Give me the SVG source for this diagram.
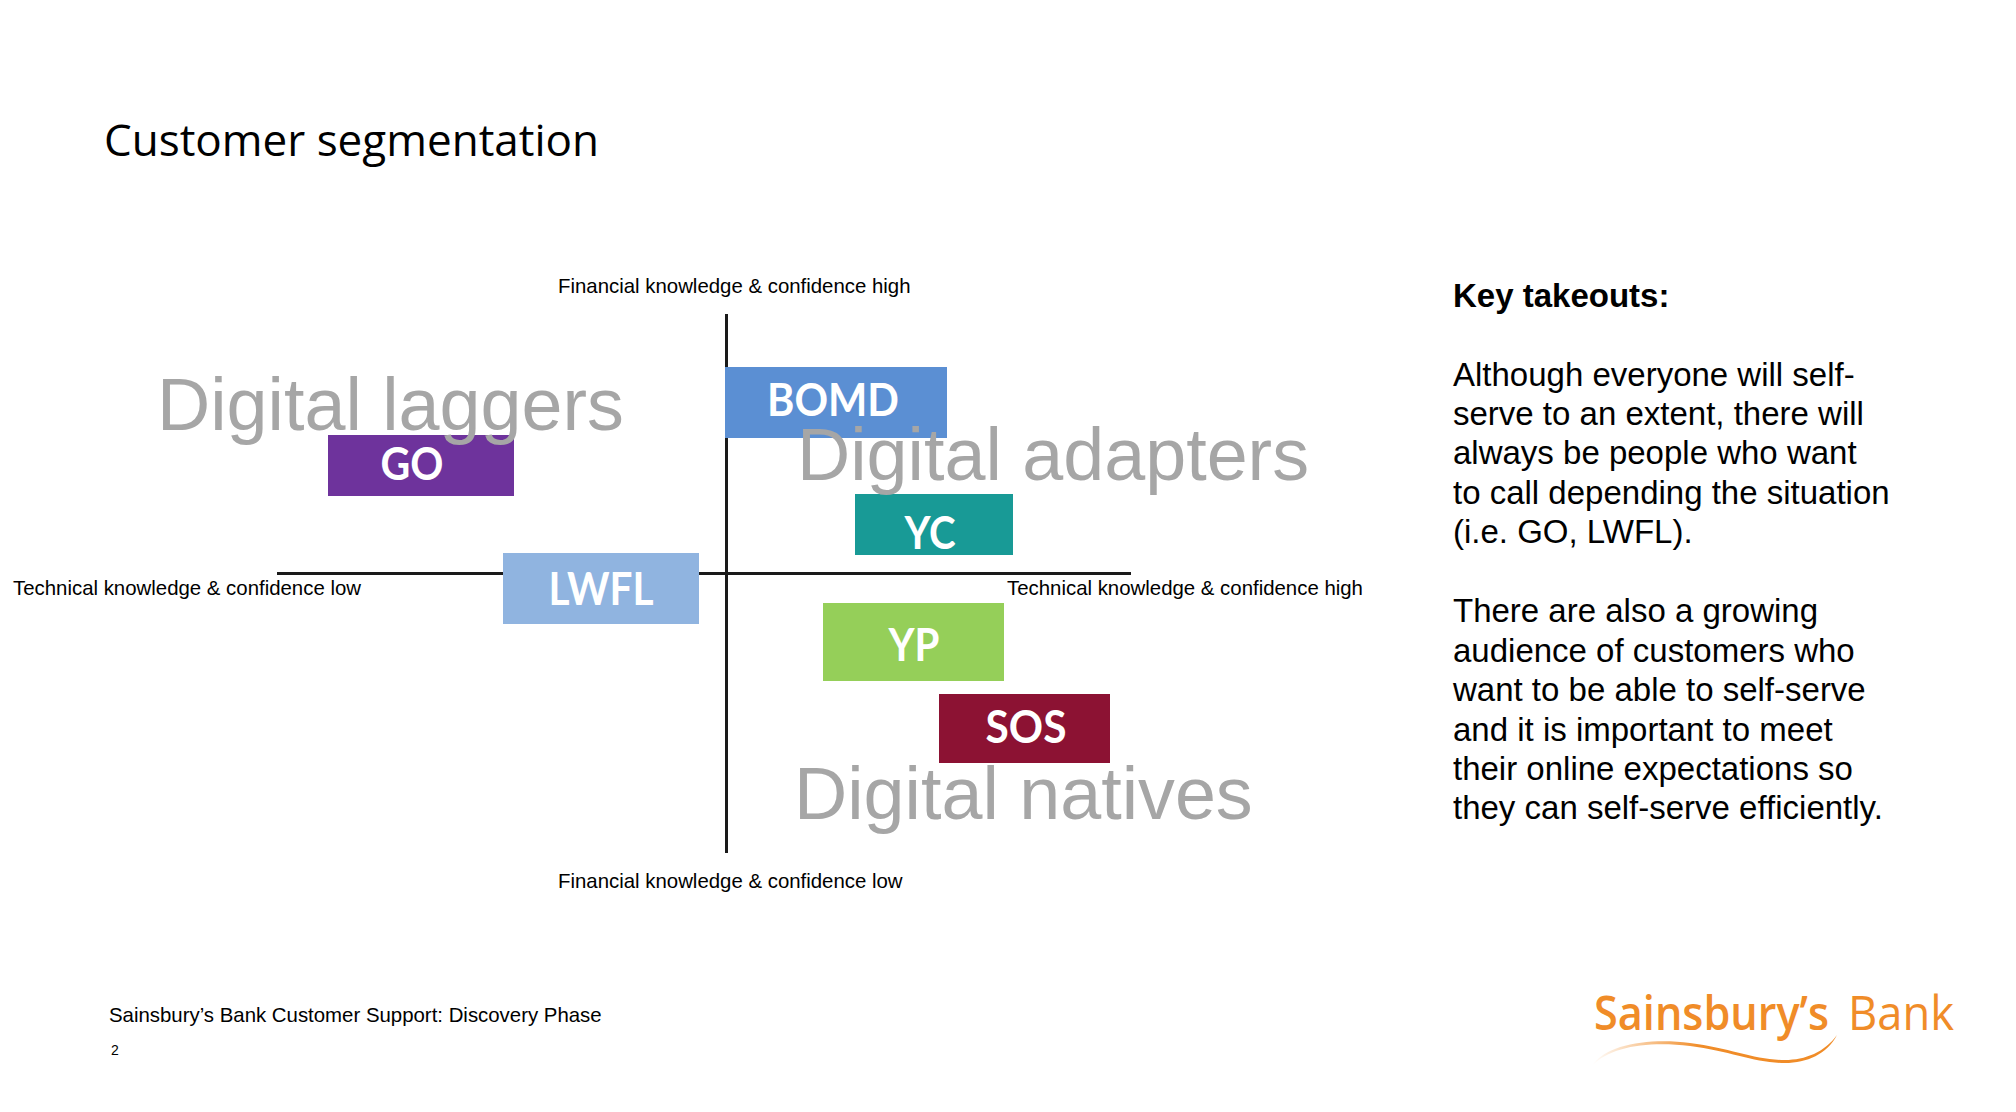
<svg xmlns="http://www.w3.org/2000/svg" width="2016" height="1112" viewBox="0 0 2016 1112">
<style>
text{font-family:"Liberation Sans",Arial,sans-serif;fill:#000}
.axis{font-size:20.4px}
.body{font-size:33px}
.seg{font-size:73.7px;fill:#a6a6a6}
.lab{font-family:Lato,"Open Sans",sans-serif;font-weight:700;font-size:46px;fill:#fff;text-anchor:middle}
.ax{stroke:#1a1a1a;stroke-width:3;fill:none}
.logo{font-family:"Open Sans",Lato,sans-serif;font-size:47px;fill:#f08c28}
</style>
<defs><linearGradient id="sw" gradientUnits="userSpaceOnUse" x1="1592" y1="0" x2="1700" y2="0"><stop offset="0" stop-color="#f08c28" stop-opacity="0"/><stop offset="1" stop-color="#f08c28"/></linearGradient></defs>
<rect width="2016" height="1112" fill="#fff"/>
<text id="title" x="104" y="156" style="font-family:'Open Sans',sans-serif;font-size:44px" textLength="495" lengthAdjust="spacingAndGlyphs">Customer segmentation</text>
<g id="connectors">
<line class="ax" x1="726.5" y1="314" x2="726.5" y2="853"/>
<line class="ax" x1="277" y1="573.5" x2="1131" y2="573.5"/>
</g>
<g id="node-bomd"><rect x="725" y="367" width="222" height="71" fill="#5b8fd3"/><text class="lab" x="833" y="416" textLength="132" lengthAdjust="spacingAndGlyphs">BOMD</text></g>
<g id="node-go"><rect x="328" y="435" width="186" height="61" fill="#6e339c"/><text class="lab" x="412" y="480" textLength="63" lengthAdjust="spacingAndGlyphs">GO</text></g>
<g id="node-yc"><rect x="855" y="494" width="158" height="61" fill="#189a96"/><text class="lab" x="930" y="549" textLength="51" lengthAdjust="spacingAndGlyphs">YC</text></g>
<g id="node-lwfl"><rect x="503" y="553" width="196" height="71" fill="#90b4e0"/><text class="lab" x="601" y="605" textLength="105" lengthAdjust="spacingAndGlyphs">LWFL</text></g>
<g id="node-yp"><rect x="823" y="603" width="181" height="78" fill="#95cf59"/><text class="lab" x="914" y="661" textLength="51" lengthAdjust="spacingAndGlyphs">YP</text></g>
<g id="node-sos"><rect x="939" y="694" width="171" height="69" fill="#8c1233"/><text class="lab" x="1026" y="743" textLength="81" lengthAdjust="spacingAndGlyphs">SOS</text></g>
<text class="seg" x="157" y="430">Digital laggers</text>
<text class="seg" x="797" y="480">Digital adapters</text>
<text class="seg" x="794" y="819">Digital natives</text>
<text class="axis" x="558" y="293">Financial knowledge &amp; confidence high</text>
<text class="axis" x="558" y="888">Financial knowledge &amp; confidence low</text>
<text class="axis" x="13" y="595">Technical knowledge &amp; confidence low</text>
<text class="axis" x="1007" y="595">Technical knowledge &amp; confidence high</text>
<g id="takeouts">
<text x="1453" y="307" font-weight="700" font-size="33">Key takeouts:</text>
<text class="body" x="1453" y="386">Although everyone will self-</text>
<text class="body" x="1453" y="425">serve to an extent, there will</text>
<text class="body" x="1453" y="464">always be people who want</text>
<text class="body" x="1453" y="504">to call depending the situation</text>
<text class="body" x="1453" y="543">(i.e. GO, LWFL).</text>
<text class="body" x="1453" y="622">There are also a growing</text>
<text class="body" x="1453" y="662">audience of customers who</text>
<text class="body" x="1453" y="701">want to be able to self-serve</text>
<text class="body" x="1453" y="741">and it is important to meet</text>
<text class="body" x="1453" y="780">their online expectations so</text>
<text class="body" x="1453" y="819">they can self-serve efficiently.</text>
</g>
<text x="109" y="1022" font-size="20.4">Sainsbury’s Bank Customer Support: Discovery Phase</text>
<text x="111" y="1055" font-size="14">2</text>
<g id="logo">
<text class="logo" x="1594" y="1030" font-weight="600" textLength="235" lengthAdjust="spacingAndGlyphs">Sainsbury’s</text>
<text class="logo" x="1848" y="1030" textLength="106" lengthAdjust="spacingAndGlyphs">Bank</text>
<path d="M1592 1066C1606 1044 1650 1038 1690 1043C1730 1048 1755 1060 1785 1060C1805 1060 1825 1052 1837 1035C1827 1054 1807 1063 1785 1063C1755 1063 1730 1051 1690 1046C1650 1041 1610 1046 1592 1066Z" fill="url(#sw)"/>
</g>
</svg>
